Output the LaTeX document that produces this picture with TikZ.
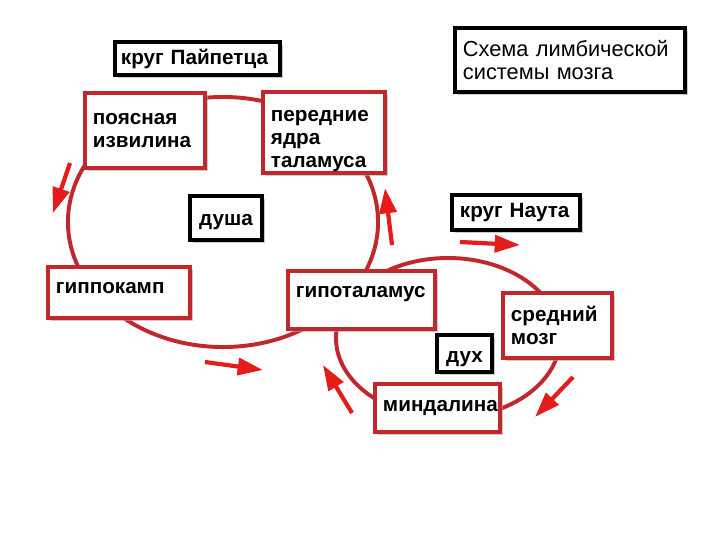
\documentclass[tikz,border=0pt]{standalone}
\usepackage{fontspec}
\setmainfont{Liberation Sans}
\usetikzlibrary{arrows.meta,shadows}
\definecolor{boxred}{RGB}{192,40,45}
\definecolor{arrowred}{RGB}{228,28,28}

\begin{document}
\begin{tikzpicture}[x=0.025cm, y=-0.025cm, every node/.style={font=\fontsize{14.7}{16.5}\selectfont\bfseries}]
\tikzset{
    redbox/.style={draw=boxred, line width=3pt, fill=white, align=left, inner xsep=0.2cm, inner ysep=0pt,
        drop shadow={shadow xshift=2pt, shadow yshift=-2pt, fill=black!35, opacity=0.6}},
    blackbox/.style={draw=black, line width=3pt, fill=white, align=left, inner xsep=0.2cm, inner ysep=0pt,
        drop shadow={shadow xshift=2pt, shadow yshift=-2pt, fill=black!35, opacity=0.6}},
    loopline/.style={boxred, line width=2.8pt},
    flowarrow/.style={arrowred, line width=3pt, -{Triangle[length=18pt, width=12pt]}}
}
\useasboundingbox (0,0) rectangle (720,540);

% Papez circle
\draw[loopline] (223,222) ellipse [x radius=3.875cm, y radius=3.125cm];
% Nauta circle
\draw[loopline] (448,338) ellipse [x radius=2.8cm, y radius=2cm];

% captions
\node[blackbox, inner xsep=0.15cm, text width=3.825cm, minimum height=0.825cm] (papez) at (197.5,58.5) {круг Пайпетца};
\node[blackbox, text width=5.35cm, minimum height=1.6cm, font=\fontsize{15.5}{17}\selectfont] (title) at (570,60)
    {Схема лимбической\\системы мозга};
\node[blackbox, text width=2.8cm, minimum height=0.875cm] (nauta) at (516,212.5) {круг Наута};
\node[blackbox, align=center, text width=1.4cm, minimum height=1.1cm, text height=13pt] (soul) at (226,218) {душа};
\node[blackbox, align=center, text width=0.975cm, minimum height=0.925cm, text height=16pt] (spirit) at (464.5,353.5) {дух};

% brain structures
\node[redbox, text width=2.6cm, minimum height=1.875cm] (cingulate) at (145,130.5) {поясная\\извилина};
\node[redbox, text width=2.65cm, minimum height=2.025cm, text height=20pt] (thalamus) at (324,132.5) {передние\\ядра\\таламуса};
\node[redbox, text width=3.15cm, minimum height=1.275cm, text depth=7pt] (hippo) at (119,292.5) {гиппокамп};
\node[redbox, text width=3.275cm, minimum height=1.45cm, text depth=12pt] (hypo) at (361.5,300) {гипоталамус};
\node[redbox, text width=2.325cm, minimum height=1.625cm] (midbrain) at (557.5,325.5) {средний\\мозг};
\node[redbox, text width=2.725cm, minimum height=1.2cm] (amygdala) at (437.5,408) {миндалина};

% flow arrows
\foreach \xa/\ya/\xb/\yb in {70/163/53/213, 392/245/385/188, 205/362/263/370,
    460/242/520/245, 352/413/323/365, 573/377/535/417}
    \draw[flowarrow] (\xa,\ya) -- (\xb,\yb);

\end{tikzpicture}
\end{document}
